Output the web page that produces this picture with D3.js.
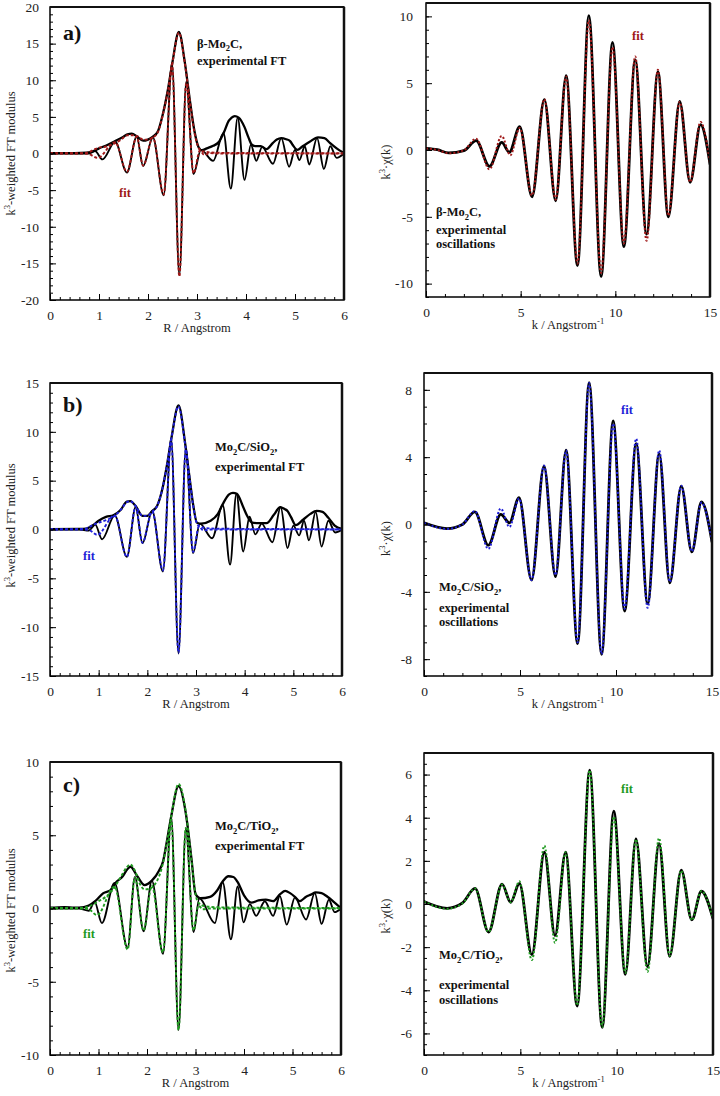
<!DOCTYPE html>
<html><head><meta charset="utf-8">
<script src="https://cdn.jsdelivr.net/npm/d3@7"></script>
<style>body{margin:0;background:#fff}svg{display:block}text{font-family:"Liberation Serif","Times New Roman",serif}</style>
</head><body><svg id="c" width="720" height="1096"></svg>
<script>
// ---------- tick labels ----------
const rTicks = [0,1,2,3,4,5,6];
const kTicks = [0,5,10,15];
const aFtTicks = [-20,-15,-10,-5,0,5,10,15,20];
const bFtTicks = [-15,-10,-5,0,5,10,15];
const cFtTicks = [-10,-5,0,5,10];
const aChiTicks = [-10,-5,0,5,10];
const bChiTicks = [-8,-4,0,4,8];
const cChiTicks = [-6,-4,-2,0,2,4,6];

// ---------- panel a (beta-Mo2C) : FT, [R, value] ----------
const aModExp = [[0,0.05],[0.5,0.05],[0.75,0.1],[0.9,0.35],[1.0,0.7],[1.15,1.1],[1.33,1.7],[1.5,2.3],[1.58,2.6],[1.67,2.7],[1.77,2.35],[1.9,1.75],[2.0,1.9],[2.1,2.3],[2.2,3.0],[2.3,5.3],[2.4,8.5],[2.5,12.5],[2.63,16.6],[2.75,12.5],[2.85,7.5],[2.95,3.0],[3.03,0.9],[3.1,0.45],[3.2,0.7],[3.33,1.05],[3.45,1.6],[3.55,2.9],[3.65,4.5],[3.7,4.85],[3.77,5.1],[3.85,4.9],[3.97,3.6],[4.05,2.2],[4.12,1.2],[4.2,1.0],[4.3,1.0],[4.42,0.6],[4.55,1.45],[4.63,1.9],[4.72,2.1],[4.82,1.95],[4.9,1.7],[4.95,1.2],[5.05,0.5],[5.15,0.95],[5.3,1.6],[5.47,2.2],[5.6,2.1],[5.72,1.4],[5.85,0.7],[6.0,0.05]];
const aImExp = [[0,0],[0.5,0],[0.8,0],[0.92,0.35],[1.07,-0.8],[1.33,1.6],[1.57,-2.6],[1.77,2.3],[1.9,-1.7],[2.1,2.2],[2.32,-5.7],[2.49,12.3],[2.64,-16.6],[2.78,9.8],[2.93,-2.8],[3.08,0.5],[3.33,-1.0],[3.54,2.8],[3.69,-4.8],[3.83,4.9],[3.97,-3.6],[4.1,1.2],[4.21,-1.0],[4.33,0.9],[4.55,-1.4],[4.72,2.1],[4.88,-1.8],[5.0,0.5],[5.09,-0.9],[5.2,1.0],[5.29,-1.5],[5.45,2.1],[5.59,-2.1],[5.72,1.0],[5.85,-0.6],[6.0,0]];
const aModFit = [[0,0.03],[0.7,0.05],[0.8,0.2],[0.9,0.55],[1.0,0.8],[1.15,0.95],[1.3,1.3],[1.45,1.9],[1.58,2.5],[1.7,2.5],[1.8,2.3],[1.9,1.9],[2.0,1.9],[2.1,2.2],[2.2,2.9],[2.3,5.2],[2.4,8.4],[2.5,12.4],[2.63,16.5],[2.75,12.4],[2.85,7.4],[2.95,2.8],[3.02,1.0],[3.08,0.35],[3.2,0.2],[3.4,0.1],[3.8,0.08],[4.5,0.05],[5.5,0.04],[6.0,0.03]];
const aImFit = [[0,0],[0.7,0],[0.8,-0.1],[0.97,-0.6],[1.33,1.55],[1.57,-2.5],[1.77,2.3],[1.9,-1.65],[2.1,2.2],[2.32,-5.6],[2.49,12.2],[2.64,-16.8],[2.78,9.6],[2.93,-2.7],[3.06,0.4],[3.15,-0.2],[3.25,0.05],[3.5,0],[6.0,0]];
// panel a : chi(k), [k, value]
const aChiExp = [[0,0.12],[0.6,0.02],[1.2,-0.22],[2.0,-0.05],[2.65,0.7],[3.35,-1.22],[4.0,0.57],[4.4,-0.17],[4.95,1.75],[5.6,-3.5],[6.25,3.77],[6.85,-3.8],[7.4,5.56],[8.0,-8.65],[8.6,10.05],[9.25,-9.48],[9.85,8.05],[10.45,-7.23],[11.05,6.75],[11.65,-6.3],[12.25,5.85],[12.8,-5.0],[13.4,3.64],[13.95,-2.42],[14.5,1.9],[15,-1.05]];
const aChiFit = [[0,0.12],[0.6,0.0],[1.2,-0.25],[2.0,-0.02],[2.65,0.85],[3.35,-1.45],[4.0,1.05],[4.45,-0.4],[4.95,1.65],[5.6,-3.4],[6.25,3.8],[6.85,-3.7],[7.4,5.5],[8.0,-8.5],[8.6,9.7],[9.25,-9.2],[9.85,7.7],[10.45,-7.0],[11.05,7.0],[11.65,-6.8],[12.25,6.0],[12.8,-4.9],[13.4,3.6],[13.95,-2.4],[14.5,2.1],[15,-1.0]];

// ---------- panel b (Mo2C/SiO2) ----------
const bModExp = [[0,0.03],[0.6,0.05],[0.75,0.1],[0.9,0.5],[1.0,0.9],[1.15,1.3],[1.3,1.45],[1.45,2.0],[1.58,2.85],[1.65,2.9],[1.76,2.4],[1.9,1.4],[2.0,1.4],[2.1,1.9],[2.2,2.4],[2.32,4.4],[2.4,6.5],[2.5,9.5],[2.64,12.7],[2.78,8.7],[2.85,6.0],[2.94,2.6],[3.02,0.7],[3.1,0.6],[3.3,0.9],[3.45,1.6],[3.55,2.6],[3.68,3.6],[3.76,3.75],[3.84,3.65],[3.97,2.3],[4.05,1.4],[4.15,0.7],[4.3,0.65],[4.45,0.65],[4.6,1.5],[4.73,2.3],[4.82,2.1],[4.88,1.9],[4.95,1.3],[5.05,0.45],[5.2,1.0],[5.35,1.6],[5.48,1.9],[5.6,1.8],[5.72,1.2],[5.85,0.4],[6.0,0.05]];
const bImExp = [[0,0],[0.6,0],[0.8,-0.1],[0.93,0.5],[1.07,-1.0],[1.33,1.45],[1.58,-2.8],[1.76,2.3],[1.9,-1.4],[2.1,1.9],[2.32,-4.3],[2.49,9.3],[2.64,-12.7],[2.79,8.3],[2.94,-2.4],[3.08,0.6],[3.33,-0.9],[3.55,2.5],[3.7,-3.6],[3.83,3.65],[3.97,-2.25],[4.1,1.3],[4.22,-0.5],[4.35,0.6],[4.57,-1.3],[4.74,2.3],[4.88,-1.9],[5.0,0.4],[5.12,-0.6],[5.22,0.9],[5.32,-1.1],[5.46,1.8],[5.58,-1.75],[5.72,0.9],[5.86,-0.3],[6.0,0]];
const bModFit = [[0,0.03],[0.7,0.05],[0.8,0.25],[0.9,0.5],[1.0,0.7],[1.15,0.95],[1.3,1.3],[1.45,2.0],[1.58,2.8],[1.65,2.9],[1.76,2.4],[1.9,1.4],[2.0,1.4],[2.1,1.8],[2.2,2.4],[2.32,4.4],[2.4,6.5],[2.5,9.5],[2.64,12.6],[2.78,8.6],[2.85,6.0],[2.94,2.5],[3.02,0.6],[3.08,0.3],[3.2,0.15],[3.5,0.08],[4.5,0.05],[6.0,0.03]];
const bImFit = [[0,0],[0.7,0],[0.8,-0.05],[0.97,-0.55],[1.33,1.45],[1.58,-2.8],[1.76,2.3],[1.9,-1.35],[2.1,1.85],[2.32,-4.2],[2.49,9.2],[2.64,-12.6],[2.79,8.2],[2.94,-2.3],[3.06,0.3],[3.15,-0.1],[3.3,0],[6.0,0]];
const bChiExp = [[0,0.1],[1.2,-0.24],[2.0,0.0],[2.65,0.75],[3.35,-1.23],[4.0,0.6],[4.45,0.1],[4.95,1.6],[5.6,-3.3],[6.25,3.47],[6.85,-3.1],[7.4,4.42],[8.0,-7.08],[8.6,8.43],[9.25,-7.72],[9.85,6.15],[10.45,-5.14],[11.05,4.8],[11.65,-4.7],[12.25,4.2],[12.8,-3.47],[13.4,2.28],[13.95,-1.63],[14.45,1.35],[15,-1.03]];
const bChiFit = [[0,0.1],[1.2,-0.26],[2.0,0.0],[2.65,0.8],[3.35,-1.45],[4.0,0.95],[4.45,-0.15],[4.95,1.55],[5.6,-3.3],[6.25,3.5],[6.85,-3.0],[7.4,4.4],[8.0,-7.0],[8.6,8.4],[9.25,-7.7],[9.85,6.0],[10.45,-5.0],[11.05,5.1],[11.65,-4.95],[12.25,4.4],[12.8,-3.4],[13.4,2.3],[13.95,-1.6],[14.45,1.3],[15,-1.0]];

// ---------- panel c (Mo2C/TiO2) ----------
const cModExp = [[0,0.05],[0.3,0.1],[0.5,0.05],[0.7,0.1],[0.8,0.2],[0.95,0.55],[1.1,1.05],[1.25,1.25],[1.35,1.75],[1.5,2.2],[1.6,2.7],[1.66,2.85],[1.8,2.2],[1.95,1.6],[2.1,1.9],[2.25,2.6],[2.33,3.2],[2.4,4.4],[2.5,6.3],[2.65,8.35],[2.8,6.5],[2.92,3.3],[3.0,1.0],[3.1,0.7],[3.3,0.8],[3.45,1.25],[3.56,1.85],[3.68,2.2],[3.78,2.15],[3.87,1.8],[4.0,0.9],[4.15,0.4],[4.3,0.55],[4.45,0.6],[4.6,0.5],[4.75,1.0],[4.85,1.2],[4.95,1.05],[5.05,0.8],[5.15,0.5],[5.28,0.8],[5.38,0.95],[5.48,1.1],[5.6,1.05],[5.72,0.8],[5.85,0.45],[6.0,0.02]];
const cImExp = [[0,0],[0.6,0],[0.8,-0.15],[0.92,0.45],[1.07,-1.0],[1.33,1.75],[1.6,-2.7],[1.75,2.15],[1.93,-1.55],[2.1,1.9],[2.33,-3.1],[2.5,6.25],[2.65,-8.3],[2.8,5.45],[2.96,-1.6],[3.08,0.7],[3.4,-1.0],[3.56,1.8],[3.73,-2.1],[3.87,1.5],[3.99,-0.95],[4.12,0.3],[4.25,-0.5],[4.43,0.5],[4.6,-0.5],[4.74,0.85],[4.88,-1.1],[5.05,0.75],[5.28,-0.75],[5.46,1.05],[5.6,-1.05],[5.75,0.6],[5.87,-0.25],[6.0,0]];
const cModFit = [[0,0.03],[0.7,0.05],[0.8,0.15],[0.9,0.3],[1.0,0.5],[1.15,0.8],[1.3,1.3],[1.45,2.1],[1.58,2.8],[1.65,3.0],[1.75,2.6],[1.85,1.7],[1.95,1.3],[2.05,1.35],[2.15,1.6],[2.25,2.2],[2.33,3.1],[2.4,4.3],[2.5,6.3],[2.65,8.5],[2.8,6.6],[2.92,3.2],[3.0,1.0],[3.06,0.4],[3.2,0.15],[3.5,0.08],[4.5,0.05],[6.0,0.03]];
const cImFit = [[0,0],[0.7,0],[0.8,-0.05],[0.97,-0.45],[1.33,1.5],[1.6,-2.8],[1.75,2.1],[1.93,-1.5],[2.1,1.55],[2.33,-3.0],[2.5,6.1],[2.65,-8.3],[2.8,5.5],[2.96,-1.5],[3.06,0.2],[3.15,-0.05],[3.3,0],[6.0,0]];
const cChiExp = [[0,0.12],[1.2,-0.2],[2.0,0.05],[2.65,0.72],[3.35,-1.3],[4.05,0.92],[4.5,0.08],[4.95,0.95],[5.6,-2.35],[6.25,2.4],[6.8,-1.47],[7.35,2.4],[7.95,-4.73],[8.6,6.2],[9.25,-5.72],[9.85,4.3],[10.45,-3.26],[11.0,3.02],[11.6,-2.9],[12.2,2.8],[12.75,-2.43],[13.35,1.57],[13.9,-0.73],[14.4,0.59],[15,-0.68]];
const cChiFit = [[0,0.12],[1.2,-0.22],[2.0,0.03],[2.65,0.72],[3.35,-1.3],[4.05,0.9],[4.5,0.08],[4.95,1.05],[5.6,-2.6],[6.25,2.7],[6.8,-1.8],[7.35,2.4],[7.95,-4.7],[8.6,6.2],[9.25,-5.7],[9.85,4.05],[10.45,-3.2],[11.0,3.0],[11.6,-3.15],[12.2,3.05],[12.75,-2.4],[13.35,1.55],[13.9,-0.75],[14.4,0.6],[15,-0.7]];

const colA = '#a01818', colB = '#1f1fd8', colC = '#1f9a1f';

// ---------- drawing ----------
const svg = d3.select('#c');
const FONT = '"Liberation Serif","Times New Roman",serif';

function rich(parent, x, y, parts, o){
  const t = parent.append('text').attr('x',x).attr('y',y)
    .attr('font-size',o.size).attr('font-weight',o.weight||'normal')
    .attr('fill',o.fill||'#000').attr('text-anchor',o.anchor||'start')
    .style('font-family',FONT);
  if(o.rotate) t.attr('transform',`rotate(-90,${x},${y})`);
  let cur = 0;
  parts.forEach(([s,k])=>{
    const sh = k==='sub' ? o.size*0.3 : (k==='sup' ? -o.size*0.42 : 0);
    const ts = t.append('tspan').text(s).attr('dy', sh-cur);
    if(k!=='n') ts.attr('font-size', o.size*0.68);
    cur = sh;
  });
  return t;
}

function panel(p){
  const [x0,y0,x1,y1] = p.box;
  const x = d3.scaleLinear().domain(p.xdom).range([x0,x1]);
  const y = d3.scaleLinear().domain(p.ydom).range([y1,y0]);
  const g = svg.append('g');
  const clipId = 'clip'+p.id;
  g.append('clipPath').attr('id',clipId).append('rect')
    .attr('x',x0).attr('y',y0).attr('width',x1-x0).attr('height',y1-y0);
  const line = d3.line().x(d=>x(d[0])).y(d=>y(d[1])).curve(d3.curveMonotoneX);
  const plot = g.append('g').attr('clip-path',`url(#${clipId})`);

  p.series.forEach(s=>{
    plot.append('path').datum(s.data).attr('d',line)
      .attr('fill','none').attr('stroke',s.color).attr('stroke-width',s.w)
      .attr('stroke-dasharray',s.dash||null).attr('stroke-linejoin','round')
      .attr('stroke-linecap',s.dash?'butt':'round');
  });

  // axes (inward ticks)
  const minorX = d3.range(p.xdom[0], p.xdom[1]+1e-9, p.xminor);
  const minorY = d3.range(p.ydom[0], p.ydom[1]+1e-9, p.yminor);
  const axB = g.append('g').attr('transform',`translate(0,${y1})`)
    .call(d3.axisBottom(x).tickValues(p.xticks).tickSize(-6).tickPadding(10).tickFormat(d3.format('d')));
  g.append('g').attr('transform',`translate(0,${y1})`)
    .call(d3.axisBottom(x).tickValues(minorX).tickSize(-3).tickFormat(''));
  const axL = g.append('g').attr('transform',`translate(${x0},0)`)
    .call(d3.axisLeft(y).tickValues(p.yticks).tickSize(-6).tickPadding(p.ypad).tickFormat(d=>String(d)));
  g.append('g').attr('transform',`translate(${x0},0)`)
    .call(d3.axisLeft(y).tickValues(minorY).tickSize(-3).tickFormat(''));
  g.selectAll('.domain').remove();
  g.selectAll('.tick line').attr('stroke','#000').attr('stroke-width',1);
  [axB,axL].forEach(a=>{ a.attr('font-family',FONT); a.selectAll('text').style('font-family',FONT).attr('font-size',13.5).attr('fill','#222'); });

  // frame
  g.append('rect').attr('x',x0).attr('y',y0).attr('width',x1-x0).attr('height',y1-y0)
    .attr('fill','none').attr('stroke','#000').attr('stroke-width',1.5);
  g.append('line').attr('x1',x1).attr('x2',x1).attr('y1',y0).attr('y2',y1)
    .attr('stroke','#111').attr('stroke-width',2.5);
  g.append('line').attr('x1',x0).attr('x2',x1).attr('y1',y0).attr('y2',y0)
    .attr('stroke','#111').attr('stroke-width',2);

  // axis titles
  rich(g, (x0+x1)/2, y1+32, p.xtitle, {size:12.5, anchor:'middle', fill:'#222'});
  rich(g, p.ytitleX, (y0+y1)/2 + p.ytitleDy, p.ytitle, {size:12.5, anchor:'middle', rotate:true, fill:'#222'});

  // annotations
  p.notes.forEach(n=> rich(g, n.x, n.y, n.parts, {size:n.size||12.5, weight:'bold', fill:n.fill||'#111'}));
}

const Rtitle = [['R / Angstrom','n']];
const Ktitle = [['k / Angstrom','n'],['-1','sup']];
const FTy = [['k','n'],['3','sup'],['-weighted FT modulus','n']];
const CHIy = [['k','n'],['3','sup'],['\u00B7\u03C7(k)','n']];

function ftSeries(mod, im, fmod, fim, col){
  return [
    {data:mod, color:'#000', w:2.3},
    {data:im, color:'#000', w:1.9},
    {data:fmod, color:col, w:1.9, dash:'3,2'},
    {data:fim, color:col, w:1.9, dash:'3,2'}
  ];
}
function chiSeries(exp, fit, col){
  return [
    {data:exp, color:'#000', w:2.8},
    {data:fit, color:col, w:2.0, dash:'2,2'}
  ];
}

const MoC = [['\u03B2-Mo','n'],['2','sub'],['C,','n']];
const MoSi = [['Mo','n'],['2','sub'],['C/SiO','n'],['2','sub'],[',','n']];
const MoTi = [['Mo','n'],['2','sub'],['C/TiO','n'],['2','sub'],[',','n']];

panel({id:'aL', box:[50,7,344,300], xdom:[0,6], ydom:[-20,20], xticks:rTicks, yticks:aFtTicks, xminor:0.2, yminor:1, ypad:11,
  series:ftSeries(aModExp,aImExp,aModFit,aImFit,colA), xtitle:Rtitle, ytitle:FTy, ytitleX:15, ytitleDy:0,
  notes:[{x:63,y:40,parts:[['a)','n']],size:22},{x:197,y:47.5,parts:MoC},{x:197,y:65,parts:[['experimental FT','n']]},
         {x:119,y:197,parts:[['fit','n']],fill:colA}]});
panel({id:'aR', box:[426,3,710,297], xdom:[0,15], ydom:[-11,11], xticks:kTicks, yticks:aChiTicks, xminor:1, yminor:1, ypad:13,
  series:chiSeries(aChiExp,aChiFit,colA), xtitle:Ktitle, ytitle:CHIy, ytitleX:390, ytitleDy:12,
  notes:[{x:436,y:216,parts:MoC},{x:436,y:234,parts:[['experimental','n']]},{x:436,y:248,parts:[['oscillations','n']]},
         {x:632,y:40,parts:[['fit','n']],fill:colA}]});

panel({id:'bL', box:[50,383,342,676], xdom:[0,6], ydom:[-15,15], xticks:rTicks, yticks:bFtTicks, xminor:0.2, yminor:1, ypad:11,
  series:ftSeries(bModExp,bImExp,bModFit,bImFit,colB), xtitle:Rtitle, ytitle:FTy, ytitleX:15, ytitleDy:-4,
  notes:[{x:63,y:412,parts:[['b)','n']],size:22},{x:215,y:451,parts:MoSi},{x:215,y:471,parts:[['experimental FT','n']]},
         {x:83,y:560,parts:[['fit','n']],fill:colB}]});
panel({id:'bR', box:[424,373,712,676], xdom:[0,15], ydom:[-9,9], xticks:kTicks, yticks:bChiTicks, xminor:1, yminor:1, ypad:12,
  series:chiSeries(bChiExp,bChiFit,colB), xtitle:Ktitle, ytitle:CHIy, ytitleX:390, ytitleDy:14,
  notes:[{x:439,y:591,parts:MoSi},{x:439,y:612,parts:[['experimental','n']]},{x:439,y:626,parts:[['oscillations','n']]},
         {x:621,y:414,parts:[['fit','n']],fill:colB}]});

panel({id:'cL', box:[50,762,341,1055], xdom:[0,6], ydom:[-10,10], xticks:rTicks, yticks:cFtTicks, xminor:0.2, yminor:1, ypad:11,
  series:ftSeries(cModExp,cImExp,cModFit,cImFit,colC), xtitle:Rtitle, ytitle:FTy, ytitleX:15, ytitleDy:2,
  notes:[{x:63,y:792,parts:[['c)','n']],size:22},{x:215,y:830,parts:MoTi},{x:215,y:850,parts:[['experimental FT','n']]},
         {x:83,y:938,parts:[['fit','n']],fill:colC}]});
panel({id:'cR', box:[424,753,713,1055], xdom:[0,15], ydom:[-7,7], xticks:kTicks, yticks:cChiTicks, xminor:1, yminor:0.5, ypad:12,
  series:chiSeries(cChiExp,cChiFit,colC), xtitle:Ktitle, ytitle:CHIy, ytitleX:390, ytitleDy:12,
  notes:[{x:439,y:959,parts:MoTi},{x:439,y:989,parts:[['experimental','n']]},{x:439,y:1004,parts:[['oscillations','n']]},
         {x:621,y:793,parts:[['fit','n']],fill:colC}]});
</script></body></html>
